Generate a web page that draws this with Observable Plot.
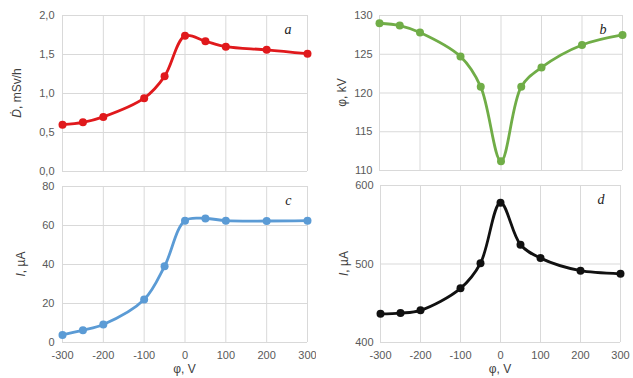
<!DOCTYPE html>
<html>
<head>
<meta charset="utf-8">
<script src="https://cdn.jsdelivr.net/npm/d3@7"></script>
<script src="https://cdn.jsdelivr.net/npm/@observablehq/plot@0.6"></script>
<style>
  html, body { margin: 0; padding: 0; background: #fff; }
  #wrap { position: relative; width: 633px; height: 378px; overflow: hidden; }
  #wrap > div { position: absolute; }
</style>
</head>
<body>
<div id="wrap">
  <div id="pa" style="left:0;top:0"></div>
  <div id="pb" style="left:316px;top:0"></div>
  <div id="pc" style="left:0;top:180px"></div>
  <div id="pd" style="left:316px;top:180px"></div>
</div>
<script>
// Bias voltage φ, V (shared x values)
const phi = [-300, -250, -200, -100, -50, 0, 50, 100, 200, 300];
const xTicks = [-300, -200, -100, 0, 100, 200, 300];

// (a) dose rate, mSv/h
const doseRate = [0.60, 0.63, 0.70, 0.94, 1.22, 1.74, 1.67, 1.60, 1.56, 1.51];
const aTicks = [0, 0.5, 1.0, 1.5, 2.0];

// (b) potential, kV
const potential = [129.0, 128.7, 127.8, 124.7, 120.8, 111.2, 120.8, 123.3, 126.2, 127.5];
const bTicks = [110, 115, 120, 125, 130];

// (c) current, µA
const currentC = [3.9, 6.3, 9.2, 22.0, 39.1, 62.5, 63.6, 62.5, 62.3, 62.5];
const cTicks = [0, 20, 40, 60, 80];

// (d) current, µA
const currentD = [436.5, 437.5, 441.0, 469.0, 501.0, 578.0, 524.5, 507.5, 491.5, 487.5];
const dTicks = [400, 500, 600];

const FONT = "'Liberation Sans', 'DejaVu Sans', sans-serif";

function panel(opts) {
  const data = phi.map((x, i) => ({x, y: opts.values[i]}));
  const svg = Plot.plot({
    width: opts.width, height: opts.height,
    marginLeft: opts.ml, marginRight: opts.mr, marginTop: opts.mt, marginBottom: opts.mb,
    style: {fontFamily: FONT, fontSize: "11px", color: "#595959", background: "#fff"},
    x: {domain: [-300, 300]},
    y: {domain: opts.yDomain},
    marks: [
      Plot.gridX(xTicks, {stroke: "#d9d9d9", strokeOpacity: 1}),
      Plot.gridY(opts.yTicks, {stroke: "#d9d9d9", strokeOpacity: 1}),
      Plot.axisY(opts.yTicks, {tickSize: 0, tickPadding: opts.yPad, tickFormat: opts.yFmt, label: null, fill: "#595959"}),
      opts.xAxis
        ? Plot.axisX(xTicks, {tickSize: 0, tickPadding: 9, tickFormat: d => String(d), label: null, fill: "#595959"})
        : Plot.axisX([], {label: null}),
      Plot.line(data, {x: "x", y: "y", stroke: opts.color, strokeWidth: 2.8, curve: "catmull-rom"}),
      Plot.dot(data, {x: "x", y: "y", r: 4, fill: opts.color, stroke: "none"}),
      Plot.text([opts.letter], {frameAnchor: "top-right", dx: -16, dy: 9, text: d => d,
        fontFamily: "'Liberation Serif', 'DejaVu Serif', serif", fontStyle: "italic", fontSize: 14, fill: "#222"})
    ]
  });
  const s = d3.select(svg);
  const cy = opts.mt + (opts.height - opts.mt - opts.mb) / 2;
  const t = s.append("text")
    .attr("transform", `translate(${opts.labelX},${cy}) rotate(-90)`)
    .attr("text-anchor", "middle")
    .attr("dominant-baseline", "middle")
    .attr("font-family", FONT).attr("font-size", 12).attr("fill", "#404040");
  opts.ylabel.forEach(p => {
    const ts = t.append("tspan").text(p.t);
    if (p.i) ts.attr("font-style", "italic");
  });
  if (opts.xAxis) {
    const cx = opts.ml + (opts.width - opts.ml - opts.mr) / 2;
    s.append("text").attr("x", cx).attr("y", opts.height - 5)
      .attr("text-anchor", "middle")
      .attr("font-family", FONT).attr("font-size", 12).attr("fill", "#404040")
      .text("φ, V");
  }
  document.getElementById(opts.el).appendChild(svg);
}

const fmtComma = d => d.toFixed(1).replace(".", ",");

panel({el: "pa", width: 316, height: 180, ml: 62, mr: 9, mt: 15, mb: 9,
  values: doseRate, color: "#e0191c", yDomain: [0, 2], yTicks: aTicks, yFmt: fmtComma, yPad: 8,
  letter: "a", xAxis: false, labelX: 18, ylabel: [{t: "Ḋ", i: true}, {t: ", mSv/h"}]});

panel({el: "pb", width: 317, height: 180, ml: 63, mr: 11, mt: 15, mb: 10,
  values: potential, color: "#70ad47", yDomain: [110, 130], yTicks: bTicks, yFmt: d => String(d), yPad: 7,
  letter: "b", xAxis: false, labelX: 27, ylabel: [{t: "φ, kV"}]});

panel({el: "pc", width: 316, height: 198, ml: 62, mr: 9, mt: 6, mb: 36,
  values: currentC, color: "#5b9bd5", yDomain: [0, 80], yTicks: cTicks, yFmt: d => String(d), yPad: 8,
  letter: "c", xAxis: true, labelX: 22, ylabel: [{t: "I", i: true}, {t: ", µA"}]});

panel({el: "pd", width: 317, height: 198, ml: 64, mr: 13, mt: 5, mb: 36,
  values: currentD, color: "#111111", yDomain: [400, 600], yTicks: dTicks, yFmt: d => String(d), yPad: 7,
  letter: "d", xAxis: true, labelX: 29, ylabel: [{t: "I", i: true}, {t: ", µA"}]});
</script>
</body>
</html>
